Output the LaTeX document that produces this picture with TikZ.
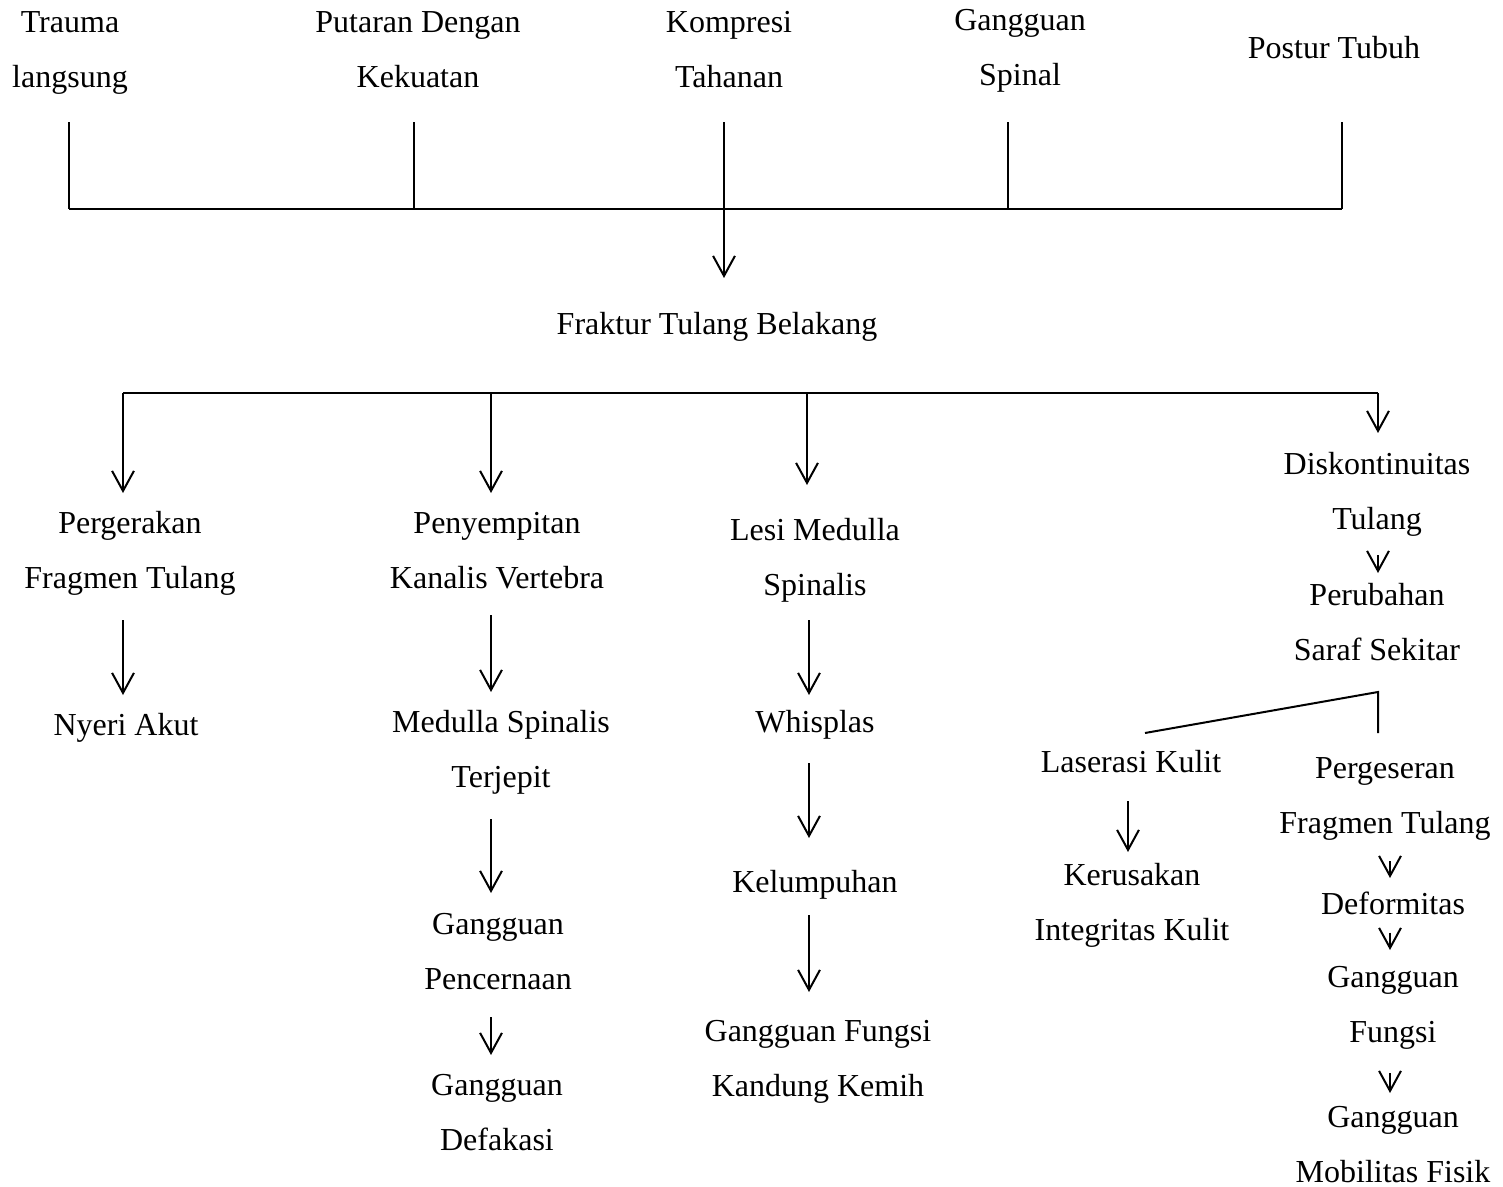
\documentclass[tikz,border=0pt]{standalone}
\usepackage{fontspec}
\setmainfont{Liberation Serif}
\usetikzlibrary{arrows.meta}
\newcommand\zz{\vphantom{hg}}
\begin{document}
\begin{tikzpicture}[x=0.375pt,y=-0.375pt,
  lbl/.style={inner sep=0pt, outer sep=0pt, anchor=north, align=center,
    font=\fontsize{12pt}{20.625pt}\selectfont},
  ln/.style={line width=0.75pt},
  arr/.style={line width=0.75pt, -{Straight Barb[length=7.5pt,width=8.2pt,line width=0.75pt]}},
  sa/.style={shorten <=#1*0.375pt},
  sb/.style={shorten >=#1*0.375pt}]
\useasboundingbox (0,0) rectangle (1503,1187);

% top causes
\node[lbl] (t1) at (70,10.7)   {\zz Trauma\\langsung\zz};
\node[lbl] (t2) at (418,10.7)  {\zz Putaran Dengan\\Kekuatan\zz};
\node[lbl] (t3) at (729,10.7)  {\zz Kompresi\\Tahanan\zz};
\node[lbl] (t4) at (1020,8.7)  {\zz Gangguan\\Spinal\zz};
\node[lbl] (t5) at (1334,36.7) {\zz Postur Tubuh\zz};

\node[lbl] (F) at (717,312.7) {\zz Fraktur Tulang Belakang\zz};

% column A
\node[lbl] (A1) at (130,511.7) {\zz Pergerakan\\Fragmen Tulang\zz};
\node[lbl] (A2) at (126,713.7) {\zz Nyeri Akut\zz};
% column B
\node[lbl] (B1) at (497,511.7)  {\zz Penyempitan\\Kanalis Vertebra\zz};
\node[lbl] (B2) at (501,710.7)  {\zz Medulla Spinalis\\Terjepit\zz};
\node[lbl] (B3) at (498,912.7)  {\zz Gangguan\\Pencernaan\zz};
\node[lbl] (B4) at (497,1073.7) {\zz Gangguan\\Defakasi\zz};
% column C
\node[lbl] (C1) at (815,518.7)  {\zz Lesi Medulla\\Spinalis\zz};
\node[lbl] (C2) at (815,710.7)  {\zz Whisplas\zz};
\node[lbl] (C3) at (815,870.7)  {\zz Kelumpuhan\zz};
\node[lbl] (C4) at (818,1019.7) {\zz Gangguan Fungsi\\Kandung Kemih\zz};
% column D
\node[lbl] (D1) at (1377,452.7) {\zz Diskontinuitas\\Tulang\zz};
\node[lbl] (D2) at (1377,583.7) {\zz Perubahan\\Saraf Sekitar\zz};
\node[lbl] (L1) at (1131,750.7) {\zz Laserasi Kulit\zz};
\node[lbl] (L2) at (1132,863.7) {\zz Kerusakan\\Integritas Kulit\zz};
\node[lbl] (P1) at (1385,756.7) {\zz Pergeseran\\Fragmen Tulang\zz};
\node[lbl] (P2) at (1393,891.7) {\zz Deformitas\zz};
\node[lbl] (P3) at (1393,965.7) {\zz Gangguan\\Fungsi\zz};
\node[lbl] (P4) at (1393,1105.7) {\zz Gangguan\\Mobilitas Fisik\zz};

% top bar
\coordinate (b1) at (69,209);
\coordinate (b2) at (414,209);
\coordinate (b3) at (724,209);
\coordinate (b4) at (1008,209);
\coordinate (b5) at (1342,209);
\draw[ln] (b1) -- (b5);
\draw[ln,sa=27.5] (b1 |- t1.south) -- (b1);
\draw[ln,sa=27.5] (b2 |- t2.south) -- (b2);
\draw[ln,sa=29.5] (b4 |- t4.south) -- (b4);
\draw[ln,sa=56.5] (b5 |- t5.south) -- (b5);
\draw[arr,sa=27.5,sb=34.7] (b3 |- t3.south) -- (b3 |- F.north);

% branch bar
\coordinate (r1) at (123,393);
\coordinate (r2) at (491,393);
\coordinate (r3) at (807,393);
\coordinate (r4) at (1378,393);
\draw[ln] (r1) -- (r4);
\draw[arr,sb=18.7] (r1) -- (r1 |- A1.north);
\draw[arr,sb=18.7] (r2) -- (r2 |- B1.north);
\draw[arr,sb=33.7] (r3) -- (r3 |- C1.north);
\draw[arr,sb=19.7] (r4) -- (r4 |- D1.north);

% column A
\draw[arr,sa=24.5,sb=18.7] (r1 |- A1.south) -- (r1 |- A2.north);
% column B
\draw[arr,sa=19.5,sb=18.7] (r2 |- B1.south) -- (r2 |- B2.north);
\draw[arr,sa=24.5,sb=19.7] (r2 |- B2.south) -- (r2 |- B3.north);
\draw[arr,sa=20.5,sb=18.7] (r2 |- B3.south) -- (r2 |- B4.north);
% column C
\coordinate (cx) at (809,0);
\draw[arr,sa=17.5,sb=15.7] (cx |- C1.south) -- (cx |- C2.north);
\draw[arr,sa=23.5,sb=32.7] (cx |- C2.south) -- (cx |- C3.north);
\draw[arr,sa=15.5,sb=27.7] (cx |- C3.south) -- (cx |- C4.north);
% column D
\draw[arr,sa=18.5,sb=10.7] (r4 |- D1.south) -- (r4 |- D2.north);
\coordinate (sp) at (1378,692);
\coordinate (lt) at (1145,733);
\coordinate (pt) at (1378,733);
\draw[ln] (lt) -- (sp) -- (pt);
\coordinate (lx) at (1128,0);
\draw[arr,sa=21.5,sb=11.7] (lx |- L1.south) -- (lx |- L2.north);
\coordinate (px) at (1390,0);
\draw[arr,sa=20.5,sb=13.7] (px |- P1.south) -- (px |- P2.north);
\draw[arr,sa=11.5,sb=15.7] (px |- P2.south) -- (px |- P3.north);
\draw[arr,sa=23.5,sb=12.7] (px |- P3.south) -- (px |- P4.north);
\end{tikzpicture}
\end{document}
